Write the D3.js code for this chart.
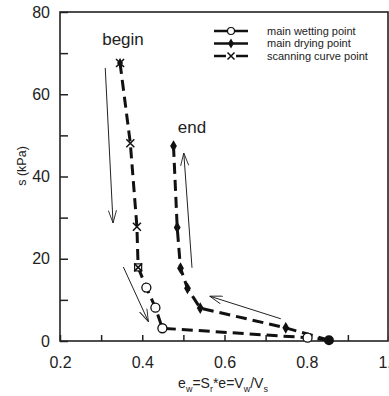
<!DOCTYPE html>
<html>
<head>
<meta charset="utf-8">
<script src="https://cdn.jsdelivr.net/npm/d3@7"></script>
<style>
  body { margin: 0; background: #fff; }
  svg { font-family: "Liberation Sans", Arial, sans-serif; }
</style>
</head>
<body>
<svg id="chart" width="389" height="396"></svg>
<script>
// scanning curve (x marks), main wetting (open circles), main drying (filled diamonds)
var scanE = [0.346, 0.371, 0.387, 0.390];
var scanS = [67.6, 48.1, 27.8, 17.9];
var wetE = [0.410, 0.432, 0.449, 0.802];
var wetS = [13.0, 8.1, 3.1, 0.8];
var dryE = [0.854, 0.749, 0.541, 0.510, 0.493, 0.485, 0.476];
var dryS = [0.2, 3.2, 8.0, 12.8, 17.7, 27.6, 47.4];
var xTicks = [0.2, 0.4, 0.6, 0.8, 1.0];
var yTicks = [0, 20, 40, 60, 80];
var legendNames = ["main wetting point", "main drying point", "scanning curve point"];
// arrows: [x1, s1, x2, s2]
var arrows = [
  [0.310, 66.4, 0.329, 28.7],
  [0.354, 18.0, 0.415, 4.7],
  [0.521, 17.8, 0.501, 45.7],
  [0.737, 5.4, 0.564, 10.9]
];

var svg = d3.select("#chart");
var x = d3.scaleLinear().domain([0.2, 1.0]).range([60, 389]);
var y = d3.scaleLinear().domain([0, 80]).range([341, 12]);

function pts(ex, es) { return ex.map((e, i) => ({x: e, s: es[i]})); }
var scan = pts(scanE, scanS);
var wet = pts(wetE, wetS);
var dry = pts(dryE, dryS);

// frame
svg.append("rect").attr("x", x(0.2)).attr("y", y(80))
  .attr("width", x(1.0) - x(0.2) - 1).attr("height", y(0) - y(80))
  .attr("fill", "none").attr("stroke", "#222").attr("stroke-width", 1.6);

// ticks
var xAxis = svg.append("g").attr("transform", "translate(0," + y(0) + ")")
  .call(d3.axisBottom(x).tickValues(d3.range(0.2, 1.01, 0.1)).tickSize(-6).tickFormat(""));
xAxis.select(".domain").remove();
xAxis.selectAll("line").attr("stroke", "#222").attr("stroke-width", 1.5);
var xLab = svg.append("g").attr("transform", "translate(0," + y(0) + ")")
  .call(d3.axisBottom(x).tickValues(xTicks).tickSize(0).tickPadding(16).tickFormat(d3.format(".1f")));
xLab.select(".domain").remove();
xLab.selectAll("text").attr("font-size", 16).attr("fill", "#222").attr("font-family", "Liberation Sans, Arial");

var yAxis = svg.append("g").attr("transform", "translate(" + x(0.2) + ",0)")
  .call(d3.axisLeft(y).tickValues(d3.range(0, 81, 10)).tickSize(-8).tickFormat(""));
yAxis.select(".domain").remove();
yAxis.selectAll("line").attr("stroke", "#222").attr("stroke-width", 1.5);
var yLab = svg.append("g").attr("transform", "translate(" + x(0.2) + ",0)")
  .call(d3.axisLeft(y).tickValues(yTicks).tickSize(0).tickPadding(10));
yLab.select(".domain").remove();
yLab.selectAll("text").attr("font-size", 16).attr("fill", "#222").attr("font-family", "Liberation Sans, Arial");

// axis labels
var xl = svg.append("text").attr("x", 223).attr("y", 388).attr("text-anchor", "middle")
  .attr("font-size", 14).attr("fill", "#222");
xl.append("tspan").text("e");
xl.append("tspan").attr("font-size", 9).attr("dy", 4).text("w");
xl.append("tspan").attr("dy", -4).text("=S");
xl.append("tspan").attr("font-size", 9).attr("dy", 4).text("r");
xl.append("tspan").attr("dy", -4).text("*e=V");
xl.append("tspan").attr("font-size", 9).attr("dy", 4).text("w");
xl.append("tspan").attr("dy", -4).text("/V");
xl.append("tspan").attr("font-size", 9).attr("dy", 4).text("s");

svg.append("text").attr("transform", "translate(26,166) rotate(-90)")
  .attr("text-anchor", "middle").attr("font-size", 12.5).attr("fill", "#222").text("s (kPa)");

// arrows
svg.append("defs").append("marker").attr("id", "arr")
  .attr("viewBox", "0 0 14 10").attr("refX", 14).attr("refY", 5)
  .attr("markerWidth", 13).attr("markerHeight", 9).attr("markerUnits", "userSpaceOnUse")
  .attr("orient", "auto")
  .append("path").attr("d", "M0,0.5 L14,5 L0,9.5").attr("fill", "none").attr("stroke", "#222").attr("stroke-width", 1);
svg.selectAll(".arrow").data(arrows).join("line").attr("class", "arrow")
  .attr("x1", d => x(d[0])).attr("y1", d => y(d[1]))
  .attr("x2", d => x(d[2])).attr("y2", d => y(d[3]))
  .attr("stroke", "#222").attr("stroke-width", 1).attr("marker-end", "url(#arr)");

// dashed curves
var line = d3.line().x(d => x(d.x)).y(d => y(d.s));
var paths = [scan, [scan[scan.length - 1]].concat(wet, [dry[0]]), dry];
paths.forEach(p => {
  svg.append("path").attr("d", line(p)).attr("fill", "none")
    .attr("stroke", "#111").attr("stroke-width", 3).attr("stroke-dasharray", "11,6");
});

// markers
var diamond = d3.symbol().type(d3.symbolDiamond).size(40);
function xMark(g, cx, cy, r) {
  g.append("path").attr("d", `M${cx - r},${cy - r}L${cx + r},${cy + r}M${cx - r},${cy + r}L${cx + r},${cy - r}`)
    .attr("stroke", "#111").attr("stroke-width", 1.5).attr("fill", "none");
}
svg.selectAll(".dry").data(dry.slice(1)).join("path").attr("class", "dry")
  .attr("transform", d => `translate(${x(d.x)},${y(d.s)})`).attr("d", diamond).attr("fill", "#111");
svg.append("circle").attr("cx", x(dry[0].x)).attr("cy", y(dry[0].s)).attr("r", 5).attr("fill", "#111");
svg.selectAll(".wet").data(wet).join("circle").attr("class", "wet")
  .attr("cx", d => x(d.x)).attr("cy", d => y(d.s)).attr("r", 4.5)
  .attr("fill", "#fff").attr("stroke", "#111").attr("stroke-width", 1.3);
svg.append("path").attr("transform", `translate(${x(scan[0].x)},${y(scan[0].s)})`)
  .attr("d", d3.symbol().type(d3.symbolDiamond).size(30)).attr("fill", "#111");
svg.append("rect").attr("x", x(scan[3].x) - 3.5).attr("y", y(scan[3].s) - 3.5).attr("width", 7).attr("height", 7)
  .attr("fill", "#fff").attr("stroke", "#111").attr("stroke-width", 1.2);
var sg = svg.append("g");
scan.forEach(d => xMark(sg, x(d.x), y(d.s), 4));

// labels
svg.append("text").attr("x", 123).attr("y", 45).attr("text-anchor", "middle")
  .attr("font-size", 17).attr("fill", "#222").text("begin");
svg.append("text").attr("x", 192).attr("y", 133).attr("text-anchor", "middle")
  .attr("font-size", 17).attr("fill", "#222").text("end");

// legend
var lg = svg.append("g");
legendNames.forEach((name, i) => {
  var ly = 31 + i * 12.5;
  lg.append("line").attr("x1", 214).attr("x2", 248).attr("y1", ly).attr("y2", ly)
    .attr("stroke", "#111").attr("stroke-width", 2.5);
  if (i === 0) lg.append("circle").attr("cx", 231).attr("cy", ly).attr("r", 3.5)
    .attr("fill", "#fff").attr("stroke", "#111").attr("stroke-width", 1.2);
  if (i === 1) lg.append("path").attr("transform", `translate(231,${ly})`)
    .attr("d", d3.symbol().type(d3.symbolDiamond).size(30)).attr("fill", "#111");
  if (i === 2) {
    lg.append("rect").attr("x", 226).attr("y", ly - 4).attr("width", 10).attr("height", 8).attr("fill", "#fff");
    xMark(lg, 231, ly, 3.5);
  }
  lg.append("text").attr("x", 267).attr("y", ly + 3.5).attr("font-size", 11)
    .attr("fill", "#222").text(name);
});
</script>
</body>
</html>
